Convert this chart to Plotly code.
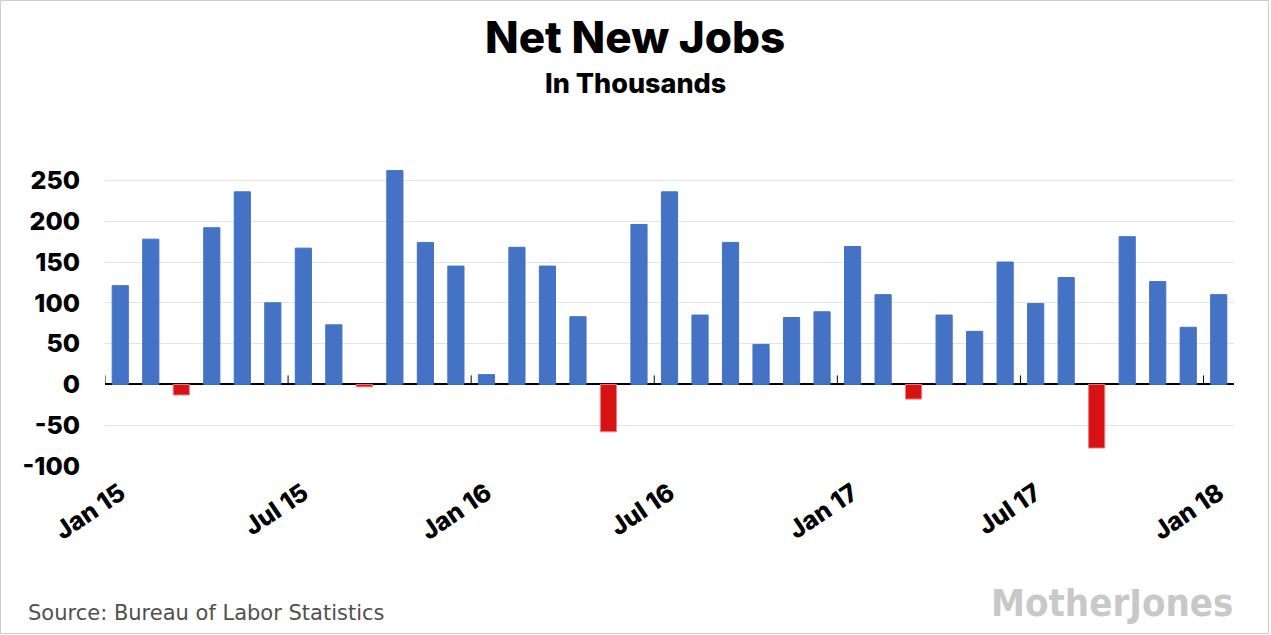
import plotly.graph_objects as go

months = ["Jan 15", "Feb 15", "Mar 15", "Apr 15", "May 15", "Jun 15",
          "Jul 15", "Aug 15", "Sep 15", "Oct 15", "Nov 15", "Dec 15",
          "Jan 16", "Feb 16", "Mar 16", "Apr 16", "May 16", "Jun 16",
          "Jul 16", "Aug 16", "Sep 16", "Oct 16", "Nov 16", "Dec 16",
          "Jan 17", "Feb 17", "Mar 17", "Apr 17", "May 17", "Jun 17",
          "Jul 17", "Aug 17", "Sep 17", "Oct 17", "Nov 17", "Dec 17",
          "Jan 18"]
jobs = [121, 178, -13, 192, 236, 100,
        167, 73, -3, 262, 174, 145,
        12, 168, 145, 83, -58, 196,
        236, 85, 174, 49, 82, 89,
        169, 110, -18, 85, 65, 150,
        99, 131, -78, 181, 126, 70,
        110]
label_months = ["Jan 15", "Jul 15", "Jan 16", "Jul 16", "Jan 17", "Jul 17", "Jan 18"]
y_ticks = [-100, -50, 0, 50, 100, 150, 200, 250]
y_ticktext = ["-100", "-50", "0", "50", "100", "150", "200", "250"]

BLUE = "#4472C4"
RED = "#D61212"
RED_EDGE = "#F08080"

xs = list(range(len(months)))
colors = [BLUE if v >= 0 else RED for v in jobs]
edges = [BLUE if v >= 0 else RED_EDGE for v in jobs]

W, H = 1271, 635
ML, MR, MT, MB = 105, 37, 160, 169
PW, PH = W - ML - MR, H - MT - MB

fig = go.Figure()
fig.add_trace(go.Bar(
    x=xs, y=jobs,
    marker=dict(color=colors, line=dict(color=edges, width=1)),
    hoverinfo="x+y",
))

tickvals = [months.index(m) for m in label_months]

shapes = []
for i in tickvals:
    shapes.append(dict(type="line", xref="x", yref="y",
                       x0=i - 0.5, x1=i - 0.5, y0=0, y1=11,
                       line=dict(color="black", width=1)))

def px_x(p):
    return (p - ML) / PW

def px_y(p):
    return (H - MB - p) / PH

shapes.append(dict(type="rect", xref="paper", yref="paper",
                   x0=px_x(0.5), x1=px_x(1268.5), y0=px_y(633.5), y1=px_y(0.5),
                   line=dict(color="#cccccc", width=1), fillcolor="rgba(0,0,0,0)",
                   layer="below"))

TITLE_FONT = "Inter"
annotations = [
    dict(text="Net New Jobs", xref="paper", yref="paper",
         x=px_x(635), y=px_y(37), xanchor="center", yanchor="middle",
         showarrow=False,
         font=dict(family=TITLE_FONT, size=44, color="black", weight=800)),
    dict(text="In Thousands", xref="paper", yref="paper",
         x=px_x(635), y=px_y(83), xanchor="center", yanchor="middle",
         showarrow=False,
         font=dict(family=TITLE_FONT, size=27, color="black", weight=800)),
    dict(text="Source: Bureau of Labor Statistics", xref="paper", yref="paper",
         x=px_x(26), y=px_y(613), xanchor="left", yanchor="middle",
         showarrow=False,
         font=dict(family="DejaVu Sans", size=21, color="#505050")),
    dict(text="MotherJones", xref="paper", yref="paper",
         x=px_x(1235), y=px_y(603), xanchor="right", yanchor="middle",
         showarrow=False,
         font=dict(family="DejaVu Sans Condensed, Liberation Sans Narrow, Liberation Sans",
                   size=38, color="#c8c8c8", weight="bold")),
]

fig.update_layout(
    width=W, height=H,
    margin=dict(l=ML, r=MR, t=MT, b=MB),
    paper_bgcolor="white", plot_bgcolor="white",
    bargap=0.47,
    showlegend=False,
    shapes=shapes,
    annotations=annotations,
    xaxis=dict(
        range=[-0.5, len(months) - 0.5],
        tickmode="array", tickvals=tickvals, ticktext=label_months,
        tickangle=-34, ticks="", showgrid=False, zeroline=False,
        showline=False, ticklabelstandoff=7,
        tickfont=dict(family=TITLE_FONT, size=25, color="black", weight=800),
    ),
    yaxis=dict(
        range=[-100, 275],
        tickmode="array", tickvals=y_ticks, ticktext=y_ticktext,
        showgrid=True, gridcolor="#e3e3e3", gridwidth=1,
        zeroline=True, zerolinecolor="black", zerolinewidth=1.5,
        showline=False, ticks="",
        ticklabelstandoff=24,
        tickfont=dict(family=TITLE_FONT, size=25, color="black", weight=800),
    ),
)

fig.write_html("out.html",
               config={"displayModeBar": False},
               post_script="document.body.style.margin='0';document.body.style.overflow='hidden';")
